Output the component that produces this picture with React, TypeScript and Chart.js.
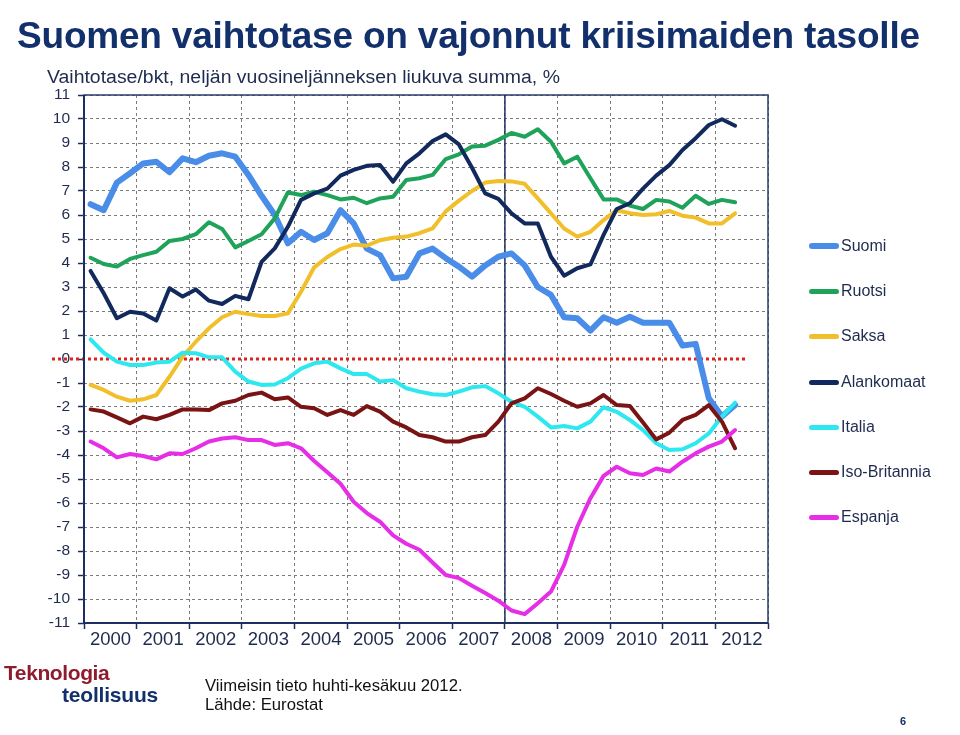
import React, { useEffect, useRef } from "react";
import { Chart, registerables } from "chart.js";

Chart.register(...registerables);

// Year labels (each year = 4 quarters, 2000Q1 .. 2012Q2 = 50 points)
const yearLabels = ["2000", "2001", "2002", "2003", "2004", "2005", "2006", "2007", "2008", "2009", "2010", "2011", "2012"];
const yTickValues = [-11, -10, -9, -8, -7, -6, -5, -4, -3, -2, -1, 0, 1, 2, 3, 4, 5, 6, 7, 8, 9, 10, 11];

const suomi = [6.45, 6.2, 7.35, 7.74, 8.15, 8.22, 7.78, 8.36, 8.2, 8.47, 8.57, 8.43, 7.67, 6.8, 6.0, 4.82, 5.3, 4.96, 5.24, 6.2, 5.65, 4.6, 4.33, 3.36, 3.43, 4.4, 4.6, 4.2, 3.85, 3.43, 3.9, 4.26, 4.4, 3.9, 3.0, 2.67, 1.74, 1.7, 1.18, 1.74, 1.51, 1.76, 1.51, 1.51, 1.51, 0.56, 0.63, -1.64, -2.4, -1.92];
const ruotsi = [4.22, 3.96, 3.85, 4.17, 4.33, 4.47, 4.92, 5.0, 5.2, 5.7, 5.42, 4.65, 4.92, 5.2, 5.86, 6.94, 6.83, 6.97, 6.83, 6.65, 6.72, 6.49, 6.69, 6.76, 7.46, 7.53, 7.67, 8.33, 8.53, 8.85, 8.89, 9.13, 9.42, 9.26, 9.57, 9.05, 8.15, 8.43, 7.53, 6.65, 6.65, 6.39, 6.25, 6.63, 6.56, 6.3, 6.8, 6.46, 6.63, 6.53];
const saksa = [-1.08, -1.29, -1.57, -1.74, -1.68, -1.5, -0.74, 0.1, 0.72, 1.28, 1.74, 1.97, 1.87, 1.79, 1.79, 1.9, 2.8, 3.82, 4.25, 4.58, 4.77, 4.72, 4.95, 5.05, 5.1, 5.24, 5.44, 6.15, 6.6, 7.0, 7.35, 7.42, 7.4, 7.3, 6.69, 6.07, 5.44, 5.1, 5.3, 5.79, 6.2, 6.07, 6.0, 6.03, 6.17, 5.97, 5.89, 5.65, 5.65, 6.07];
const alankomaat = [3.67, 2.74, 1.7, 1.97, 1.9, 1.6, 2.95, 2.6, 2.9, 2.43, 2.29, 2.63, 2.49, 4.05, 4.61, 5.51, 6.63, 6.9, 7.1, 7.64, 7.88, 8.05, 8.08, 7.39, 8.15, 8.57, 9.08, 9.36, 8.94, 7.97, 6.9, 6.67, 6.07, 5.65, 5.65, 4.26, 3.47, 3.78, 3.94, 5.17, 6.25, 6.49, 7.1, 7.64, 8.08, 8.71, 9.2, 9.75, 9.99, 9.72];
const italia = [0.82, 0.26, -0.11, -0.25, -0.25, -0.15, -0.11, 0.26, 0.24, 0.07, 0.07, -0.53, -0.94, -1.08, -1.06, -0.8, -0.4, -0.18, -0.11, -0.39, -0.63, -0.63, -0.94, -0.88, -1.22, -1.36, -1.47, -1.5, -1.36, -1.18, -1.13, -1.43, -1.78, -1.99, -2.4, -2.85, -2.79, -2.89, -2.61, -2.01, -2.2, -2.54, -2.96, -3.51, -3.79, -3.76, -3.51, -3.1, -2.4, -1.82];
const isoBritannia = [-2.1, -2.19, -2.43, -2.68, -2.4, -2.51, -2.33, -2.1, -2.1, -2.13, -1.85, -1.74, -1.5, -1.4, -1.68, -1.6, -1.99, -2.05, -2.33, -2.13, -2.33, -1.96, -2.19, -2.61, -2.85, -3.17, -3.26, -3.44, -3.44, -3.26, -3.17, -2.61, -1.85, -1.64, -1.22, -1.46, -1.74, -1.99, -1.85, -1.5, -1.92, -1.96, -2.65, -3.35, -3.07, -2.54, -2.33, -1.92, -2.61, -3.72];
const espanja = [-3.44, -3.72, -4.1, -3.96, -4.04, -4.18, -3.93, -3.96, -3.72, -3.44, -3.31, -3.26, -3.38, -3.38, -3.58, -3.51, -3.72, -4.25, -4.72, -5.2, -5.95, -6.42, -6.78, -7.35, -7.7, -7.95, -8.48, -9.0, -9.13, -9.45, -9.75, -10.07, -10.48, -10.63, -10.18, -9.69, -8.58, -6.99, -5.8, -4.87, -4.49, -4.76, -4.83, -4.56, -4.69, -4.28, -3.93, -3.65, -3.44, -2.96];

const seriesNames = ["Suomi", "Ruotsi", "Saksa", "Alankomaat", "Italia", "Iso-Britannia", "Espanja"];
const seriesValues = [suomi, ruotsi, saksa, alankomaat, italia, isoBritannia, espanja];
const seriesColors = ["#4a8de8", "#1fa35a", "#f2bf2c", "#12295d", "#2ee8ef", "#7a1414", "#e62ee6"];
const seriesWidths = [6, 4, 4, 4, 4, 4, 4];

const TEXT = "#1e2b4e";
const FONT = "'Liberation Sans', Arial, sans-serif";

const framePlugin = {
  id: "frame",
  beforeDatasetsDraw(chart: any) {
    const { ctx, chartArea: a, scales } = chart;
    const y0 = scales.y.getPixelForValue(0);
    const x2008 = scales.x.getPixelForValue(32);
    ctx.save();
    // zero reference line (red dotted)
    ctx.strokeStyle = "#e0231d";
    ctx.lineWidth = 3;
    ctx.setLineDash([3, 3]);
    ctx.beginPath();
    ctx.moveTo(a.left - 32, y0);
    ctx.lineTo(a.right - 21, y0);
    ctx.stroke();
    ctx.setLineDash([]);
    // frame
    ctx.strokeStyle = "#2a3d6b";
    ctx.lineWidth = 1.5;
    ctx.strokeRect(a.left, a.top, a.right - a.left, a.bottom - a.top);
    ctx.strokeStyle = "#1c2f5e";
    ctx.lineWidth = 2;
    ctx.beginPath();
    ctx.moveTo(a.left, a.top);
    ctx.lineTo(a.left, a.bottom);
    ctx.lineTo(a.right, a.bottom);
    ctx.stroke();
    ctx.lineWidth = 1.5;
    ctx.beginPath();
    ctx.moveTo(x2008, a.top);
    ctx.lineTo(x2008, a.bottom);
    ctx.stroke();
    ctx.restore();
  },
};

export default function App() {
  const ref = useRef<HTMLCanvasElement | null>(null);

  useEffect(() => {
    if (!ref.current) return;
    const datasets = seriesNames.map((name, s) => ({
      label: name,
      data: seriesValues[s].map((v, i) => ({ x: i + 0.5, y: v })),
      borderColor: seriesColors[s],
      backgroundColor: seriesColors[s],
      borderWidth: seriesWidths[s],
      pointRadius: 0,
      tension: 0,
      fill: false,
      borderJoinStyle: "round" as const,
      borderCapStyle: "round" as const,
      order: seriesNames.length - s,
    }));

    const chart = new Chart(ref.current, {
      type: "line",
      data: { datasets },
      plugins: [framePlugin],
      options: {
        animation: false,
        responsive: false,
        maintainAspectRatio: false,
        layout: { padding: { left: 0, top: 95, right: 192, bottom: 72 } },
        plugins: { legend: { display: false }, tooltip: { enabled: false }, title: { display: false } },
        scales: {
          x: {
            type: "linear",
            min: 0,
            max: yearLabels.length * 4,
            afterBuildTicks: (scale: any) => {
              const t = [];
              for (let k = 0; k <= yearLabels.length; k++) t.push({ value: k * 4 });
              scale.ticks = t;
            },
            afterFit: (scale: any) => {
              scale.height = 40;
            },
            ticks: {
              autoSkip: false,
              maxRotation: 0,
              minRotation: 0,
              labelOffset: 26.5,
              padding: 0,
              color: TEXT,
              font: { family: FONT, size: 18.5 },
              callback: (v: any) => {
                const k = Math.round(Number(v) / 4);
                return k < yearLabels.length ? yearLabels[k] : "";
              },
            },
            grid: {
              color: "#7a7a7a",
              lineWidth: 1,
              drawTicks: true,
              tickLength: 6,
              tickColor: "#1c2f5e",
              tickWidth: 1.5,
              tickBorderDash: [],
            },
            border: { display: false, dash: [3, 3] },
          },
          y: {
            type: "linear",
            min: -11,
            max: 11,
            afterBuildTicks: (scale: any) => {
              scale.ticks = yTickValues.map((v) => ({ value: v }));
            },
            afterFit: (scale: any) => {
              scale.width = 84;
            },
            ticks: {
              autoSkip: false,
              padding: 8,
              color: TEXT,
              font: { family: FONT, size: 15.5 },
              callback: (v: any) => String(v),
            },
            grid: {
              color: (c: any) => (c.tick && c.tick.value === 0 ? "rgba(0,0,0,0)" : "#7a7a7a"),
              lineWidth: 1,
              drawTicks: true,
              tickLength: 6,
              tickColor: "#1c2f5e",
              tickWidth: 1.5,
              tickBorderDash: [],
            },
            border: { display: false, dash: [3, 3] },
          },
        },
      },
    });
    return () => chart.destroy();
  }, []);

  const legendY = [246, 291, 336, 382, 427, 472, 517];

  return (
    <div style={{ position: "absolute", left: 0, top: 0, width: 960, height: 735, background: "#ffffff", overflow: "hidden", fontFamily: FONT }}>
      <canvas ref={ref} width={960} height={735} style={{ position: "absolute", left: 0, top: 0, width: 960, height: 735 }} />
      <div style={{ position: "absolute", left: 17, top: 15, fontSize: 37, lineHeight: "42px", fontWeight: "bold", color: "#12306c", whiteSpace: "nowrap", letterSpacing: -0.2 }}>
        Suomen vaihtotase on vajonnut kriisimaiden tasolle
      </div>
      <div style={{ position: "absolute", left: 47, top: 66, fontSize: 18, lineHeight: "22px", color: TEXT, whiteSpace: "nowrap", transform: "scaleX(1.08)", transformOrigin: "left center" }}>
        Vaihtotase/bkt, neljän vuosineljänneksen liukuva summa, %
      </div>
      {seriesNames.map((name, s) => (
        <div key={name} style={{ position: "absolute", left: 809, top: legendY[s] - 10, height: 20, display: "flex", alignItems: "center", whiteSpace: "nowrap" }}>
          <div style={{ width: 30, height: s === 0 ? 6 : 5, borderRadius: 3, background: seriesColors[s] }} />
          <div style={{ marginLeft: 2, fontSize: 16, color: TEXT }}>{name}</div>
        </div>
      ))}
      <div style={{ position: "absolute", left: 4, top: 662, fontSize: 21, lineHeight: "22px", fontWeight: "bold", color: "#8e1b2e", letterSpacing: -0.4 }}>Teknologia</div>
      <div style={{ position: "absolute", left: 62, top: 684, fontSize: 21, lineHeight: "22px", fontWeight: "bold", color: "#12306c", letterSpacing: -0.2 }}>teollisuus</div>
      <div style={{ position: "absolute", left: 205, top: 676, fontSize: 16.7, color: "#111", whiteSpace: "nowrap", lineHeight: "19px" }}>
        Viimeisin tieto huhti-kesäkuu 2012.
        <br />
        Lähde: Eurostat
      </div>
      <div style={{ position: "absolute", left: 900, top: 715, fontSize: 11, fontWeight: "bold", color: "#12306c" }}>6</div>
    </div>
  );
}
